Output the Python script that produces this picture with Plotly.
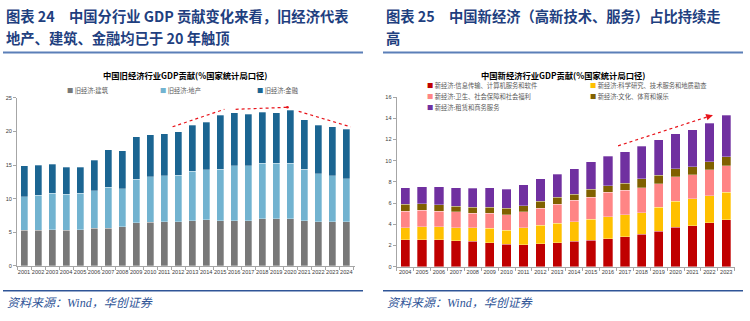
import plotly.graph_objects as go

# ---------------- data ----------------
years_old = ["2001", "2002", "2003", "2004", "2005", "2006", "2007", "2008", "2009", "2010", "2011", "2012",
             "2013", "2014", "2015", "2016", "2017", "2018", "2019", "2020", "2021", "2022", "2023", "2024"]
old_names = ["旧经济:建筑", "旧经济:地产", "旧经济:金融"]
old_construction = [5.3, 5.3, 5.4, 5.3, 5.4, 5.6, 5.6, 5.8, 6.4, 6.5, 6.6, 6.6,
                    6.7, 6.9, 6.7, 6.7, 6.7, 7.0, 7.0, 7.0, 6.7, 6.6, 6.6, 6.6]
old_realestate = [5.0, 5.2, 5.4, 5.4, 5.4, 5.6, 6.1, 5.7, 6.5, 6.8, 6.8, 6.9,
                  7.4, 7.4, 7.7, 8.2, 8.2, 8.3, 8.3, 8.3, 7.7, 7.1, 6.8, 6.4]
old_finance = [4.6, 4.5, 4.3, 4.0, 3.9, 4.5, 5.6, 5.65, 6.3, 6.2, 6.25, 6.5,
               6.8, 7.1, 8.0, 7.9, 7.7, 7.55, 7.5, 7.85, 7.35, 7.2, 7.3, 7.3]

years_new = ["2004", "2005", "2006", "2007", "2008", "2009", "2010", "2011", "2012", "2013",
             "2014", "2015", "2016", "2017", "2018", "2019", "2020", "2021", "2022", "2023"]
new_names = ["新经济:信息传输、计算机服务和软件", "新经济:科学研究、技术服务和地质勘查",
             "新经济:卫生、社会保障和社会福利", "新经济:文化、体育和娱乐", "新经济:租赁和商务服务"]
new_it = [2.56, 2.56, 2.53, 2.44, 2.41, 2.25, 2.10, 2.07, 2.16, 2.25,
          2.41, 2.47, 2.62, 2.81, 3.06, 3.34, 3.74, 3.86, 4.14, 4.44]
new_research = [1.09, 1.21, 1.24, 1.24, 1.24, 1.36, 1.36, 1.58, 1.73, 1.86,
                1.85, 2.01, 2.07, 2.10, 2.04, 2.25, 2.44, 2.54, 2.56, 2.60]
new_health = [1.60, 1.54, 1.48, 1.48, 1.38, 1.45, 1.42, 1.51, 1.64, 1.79,
              2.01, 2.09, 2.34, 2.31, 2.35, 2.22, 2.31, 2.28, 2.44, 2.50]
new_culture = [0.65, 0.62, 0.58, 0.52, 0.59, 0.56, 0.62, 0.61, 0.62, 0.65,
               0.55, 0.72, 0.62, 0.66, 0.83, 0.80, 0.74, 0.76, 0.77, 0.83]
new_leasing = [1.57, 1.63, 1.73, 1.76, 1.76, 1.82, 1.79, 1.95, 2.13, 2.19,
               2.41, 2.62, 2.78, 2.95, 3.08, 3.37, 3.30, 3.50, 3.61, 3.93]

old_ticks = [0, 5, 10, 15, 20, 25]
new_ticks = [0, 2, 4, 6, 8, 10, 12, 14, 16]

# trend arrows (category index, value, head style)
old_trends = [((10.6, 20.7), (14.3, 23.3), 2), ((15.1, 23.3), (18.8, 23.6), 6), ((19.6, 23.0), (23.3, 20.7), 2)]
new_trends = [((12.6, 11.4), (18.2, 14.3), 2)]

old_colors = ["#787878", "#72B3D0", "#1B6592"]
new_colors = ["#C00000", "#FFC000", "#FF8585", "#806000", "#7030A0"]

W, H = 750, 321
def px(x): return x / W
def py(y): return 1 - y / H

CJK = "Noto Sans CJK SC"
LAT = "Liberation Sans, Noto Sans CJK SC"

fig = go.Figure()
for name, vals, col in zip(old_names, [old_construction, old_realestate, old_finance], old_colors):
    fig.add_trace(go.Bar(x=years_old, y=vals, name=name, marker=dict(color=col, line=dict(color="rgba(255,255,255,0.5)", width=0.6)),
                         width=0.5, xaxis="x", yaxis="y", showlegend=False))
for name, vals, col in zip(new_names, [new_it, new_research, new_health, new_culture, new_leasing], new_colors):
    fig.add_trace(go.Bar(x=years_new, y=vals, name=name, marker=dict(color=col, line=dict(color="rgba(255,255,255,0.5)", width=0.6)),
                         width=0.55, xaxis="x2", yaxis="y2", showlegend=False))

axis_common = dict(showgrid=False, zeroline=False, showline=True, linecolor="#A6A6A6", linewidth=1,
                   ticks="outside", ticklen=3, tickcolor="#A6A6A6",
                   tickfont=dict(family=LAT, size=5.6, color="#404040"))
fig.update_layout(
    width=W, height=H, margin=dict(l=0, r=0, t=0, b=0),
    paper_bgcolor="white", plot_bgcolor="white", barmode="stack",
    xaxis=dict(axis_common, type="category", domain=[px(17), px(354.5)], anchor="y", tickson="boundaries",
               tickangle=0),
    yaxis=dict(axis_common, domain=[py(268), py(96.7)], range=[0, 25], tickvals=old_ticks, anchor="x"),
    xaxis2=dict(axis_common, type="category", domain=[px(396.7), px(734.7)], anchor="y2", tickson="boundaries",
                tickangle=0),
    yaxis2=dict(axis_common, domain=[py(268.7), py(95.9)], range=[0, 16], tickvals=new_ticks, anchor="x2"),
    font=dict(family=CJK),
)

ann = []
shapes = []
title_col = "#1F3F7F"
# headings
ann.append(dict(text="<b>图表 24\u3000中国分行业 GDP 贡献变化来看，旧经济代表</b>", x=px(4), y=py(13)))
ann.append(dict(text="<b>地产、建筑、金融均已于 20 年触顶</b>", x=px(4), y=py(35)))
ann.append(dict(text="<b>图表 25\u3000中国新经济（高新技术、服务）占比持续走</b>", x=px(384), y=py(13)))
ann.append(dict(text="<b>高</b>", x=px(384), y=py(35)))
for a in ann:
    a.update(xref="paper", yref="paper", xanchor="left", yanchor="middle", showarrow=False,
             font=dict(family=CJK, size=14.3, color=title_col))

# separators
for x0, x1 in [(3, 363), (383, 743)]:
    shapes.append(dict(type="line", xref="paper", yref="paper", x0=px(x0), x1=px(x1), y0=py(50.5), y1=py(50.5),
                       line=dict(color="#5B7FB8", width=2)))
    shapes.append(dict(type="line", xref="paper", yref="paper", x0=px(x0), x1=px(x1), y0=py(293.3), y1=py(293.3),
                       line=dict(color="#2F5597", width=1.5)))

# sources
for x0 in [5, 385]:
    ann.append(dict(text="<i>资料来源：Wind，华创证券</i>", x=px(x0), y=py(306), xref="paper", yref="paper",
                    xanchor="left", yanchor="middle", showarrow=False,
                    font=dict(family="Liberation Serif, Noto Sans CJK SC", size=12, color="#2F5597")))

# chart titles
ann.append(dict(text="<b>中国旧经济行业GDP贡献(%国家统计局口径)</b>", x=px(185), y=py(73), xref="paper", yref="paper",
                xanchor="center", yanchor="middle", showarrow=False, font=dict(family=CJK, size=8.3, color="#000000")))
ann.append(dict(text="<b>中国新经济行业GDP贡献(%国家统计局口径)</b>", x=px(563), y=py(73), xref="paper", yref="paper",
                xanchor="center", yanchor="middle", showarrow=False, font=dict(family=CJK, size=8.3, color="#000000")))

# manual legends
def legend_item(name, col, x, y):
    ann.append(dict(text=f"<span style='color:{col}'>■</span> {name}", x=px(x), y=py(y), xref="paper", yref="paper",
                    xanchor="left", yanchor="middle", showarrow=False,
                    font=dict(family=CJK, size=6.3, color="#595959")))

for name, col, x in zip(old_names, old_colors, [65, 158, 255]):
    legend_item(name, col, x, 88.7)
new_pos = [(425, 84.3), (588, 84.3), (425, 95.6), (588, 95.6), (425, 106.8)]
for name, col, (x, y) in zip(new_names, new_colors, new_pos):
    legend_item(name, col, x, y)

# trend arrows
def trend(pts, xr, yr):
    for (x0, y0), (x1, y1), head in pts:
        shapes.append(dict(type="line", xref=xr, yref=yr, x0=x0, y0=y0, x1=x1, y1=y1,
                           line=dict(color="#E8141B", width=1.2, dash="dot")))
        ann.append(dict(x=x1, y=y1, ax=x1 - (x1 - x0) * 0.06, ay=y1 - (y1 - y0) * 0.06, xref=xr, yref=yr,
                        axref=xr, ayref=yr, text="", showarrow=True, arrowhead=head,
                        arrowsize=(0.55 if head == 6 else 1.1),
                        arrowwidth=1.2, arrowcolor="#E8141B", standoff=0, startstandoff=0))

trend(old_trends, "x", "y")
trend(new_trends, "x2", "y2")

fig.update_layout(annotations=ann, shapes=shapes)
fig.write_html("out.html")
